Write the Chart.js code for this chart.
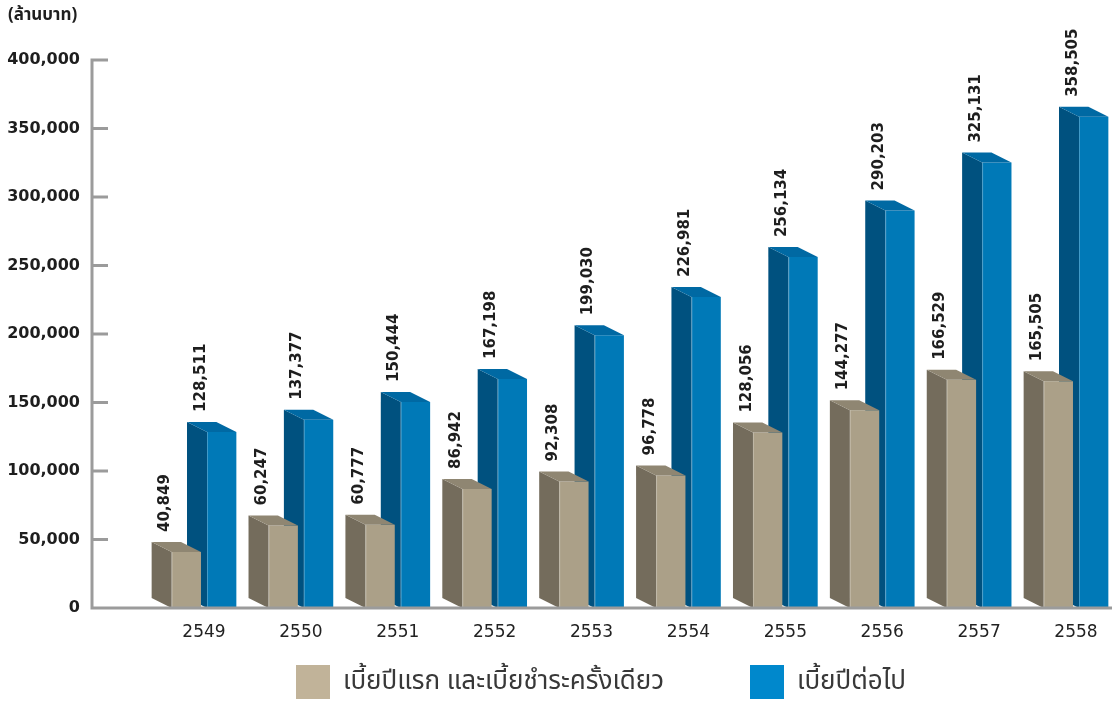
<!DOCTYPE html>
<html lang="th">
<head>
<meta charset="utf-8">
<title>เบี้ยประกันภัยรับ 2549-2558</title>
<script src="https://cdn.jsdelivr.net/npm/chart.js@4.4.1/dist/chart.umd.min.js"></script>
<style>
  html, body { margin: 0; padding: 0; background: #ffffff; }
  #wrap { width: 1112px; height: 703px; }
</style>
</head>
<body>
<div id="wrap"><canvas id="chart" width="1112" height="703"></canvas></div>
<script>
// Years (Buddhist era)
const years = ['2549', '2550', '2551', '2552', '2553', '2554', '2555', '2556', '2557', '2558'];

// Premiums, million baht
const firstYearAndSingle = [40849, 60247, 60777, 86942, 92308, 96778, 128056, 144277, 166529, 165505];
const renewal = [128511, 137377, 150444, 167198, 199030, 226981, 256134, 290203, 325131, 358505];

const seriesNames = ['เบี้ยปีแรก และเบี้ยชำระครั้งเดียว', 'เบี้ยปีต่อไป'];
const unitLabel = '(ล้านบาท)';
const yTicks = [0, 50000, 100000, 150000, 200000, 250000, 300000, 350000, 400000];

const THAI_FONT = '"Noto Sans Thai", "Noto Sans Thai Looped", Tahoma, "Noto Sans", sans-serif';
const NUM_FONT = '"DejaVu Sans", "Noto Sans", sans-serif';

// Colours for each face of the box bars
const faces = [
  { front: '#aba088', side: '#746c5c', top: '#8f8672', legend: '#c1b399' },
  { front: '#0079b7', side: '#00517f', top: '#0069a3', legend: '#0088cc' }
];
const DEPTH_X = -20;
const DEPTH_Y = -10;

const fmt = v => v.toLocaleString('en-US');

// Side and top faces, drawn right after each dataset so the front series overlaps the one behind it
const boxFaces = {
  id: 'boxFaces',
  afterDatasetDraw(chart, args) {
    const ctx = chart.ctx;
    const f = faces[args.index];
    ctx.save();
    args.meta.data.forEach(bar => {
      const { x, y, base, width } = bar.getProps(['x', 'y', 'base', 'width'], true);
      const l = x - width / 2, r = x + width / 2;
      ctx.fillStyle = f.side;
      ctx.beginPath();
      ctx.moveTo(l, base);
      ctx.lineTo(l + DEPTH_X, base + DEPTH_Y);
      ctx.lineTo(l + DEPTH_X, y + DEPTH_Y);
      ctx.lineTo(l, y);
      ctx.closePath();
      ctx.fill();
      ctx.fillStyle = f.top;
      ctx.beginPath();
      ctx.moveTo(l, y);
      ctx.lineTo(l + DEPTH_X, y + DEPTH_Y);
      ctx.lineTo(r + DEPTH_X, y + DEPTH_Y);
      ctx.lineTo(r, y);
      ctx.closePath();
      ctx.fill();
      // soft light edge on the front corner
      ctx.strokeStyle = 'rgba(255,255,255,0.25)';
      ctx.lineWidth = 1;
      ctx.beginPath();
      ctx.moveTo(l + 0.5, y);
      ctx.lineTo(l + 0.5, base);
      ctx.stroke();
    });
    ctx.restore();
  }
};

// Vertical value labels above every bar
const valueLabels = {
  id: 'valueLabels',
  afterDatasetsDraw(chart) {
    const ctx = chart.ctx;
    ctx.save();
    ctx.font = 'bold 15px ' + NUM_FONT;
    ctx.fillStyle = '#1e1e1e';
    ctx.textAlign = 'left';
    ctx.textBaseline = 'middle';
    chart.data.datasets.forEach((ds, i) => {
      chart.getDatasetMeta(i).data.forEach((bar, j) => {
        const { x, y } = bar.getProps(['x', 'y'], true);
        ctx.save();
        ctx.translate(x + DEPTH_X - 1, y + DEPTH_Y - 10);
        ctx.rotate(-Math.PI / 2);
        ctx.fillText(fmt(ds.data[j]), 0, 0);
        ctx.restore();
      });
    });
    ctx.restore();
  }
};

// Axis lines, tick marks, unit caption and legend
const frame = {
  id: 'frame',
  afterDraw(chart) {
    const ctx = chart.ctx;
    const ys = chart.scales.y;
    const axisX = 92;
    const yTop = ys.getPixelForValue(yTicks[yTicks.length - 1]);
    const yZero = ys.getPixelForValue(0);
    ctx.save();
    ctx.strokeStyle = '#9b9b9b';
    ctx.lineWidth = 3;
    ctx.lineCap = 'butt';
    ctx.beginPath();
    ctx.moveTo(axisX, yTop - 1.5);
    ctx.lineTo(axisX, yZero);
    ctx.moveTo(axisX - 1.5, yZero);
    ctx.lineTo(chart.width, yZero);
    yTicks.forEach(v => {
      const py = ys.getPixelForValue(v);
      ctx.moveTo(axisX - 1.5, py);
      ctx.lineTo(axisX + 16, py);
    });
    ctx.stroke();

    ctx.fillStyle = '#1e1e1e';
    ctx.font = 'bold 17px ' + THAI_FONT;
    ctx.textAlign = 'left';
    ctx.textBaseline = 'middle';
    ctx.fillText(unitLabel, 8, 17);

    const legendX = [296, 750];
    ctx.font = '26px ' + THAI_FONT;
    seriesNames.forEach((name, i) => {
      ctx.fillStyle = faces[i].legend;
      ctx.fillRect(legendX[i], 665, 34, 34);
      ctx.fillStyle = '#383838';
      ctx.fillText(name, legendX[i] + 47, 684);
    });
    ctx.restore();
  }
};

new Chart(document.getElementById('chart'), {
  type: 'bar',
  data: {
    labels: years,
    datasets: [
      { label: seriesNames[0], data: firstYearAndSingle, backgroundColor: faces[0].front, borderWidth: 0, clip: false },
      { label: seriesNames[1], data: renewal, backgroundColor: faces[1].front, borderWidth: 0, clip: false }
    ]
  },
  options: {
    responsive: false,
    animation: false,
    devicePixelRatio: 1,
    categoryPercentage: 0.73,
    barPercentage: 0.83,
    layout: { padding: { top: 60, right: 36, bottom: 55, left: 0 } },
    plugins: { legend: { display: false }, tooltip: { enabled: false } },
    scales: {
      x: {
        offset: false,
        grid: { display: false, drawTicks: false },
        border: { display: false },
        ticks: { color: '#222222', font: { family: NUM_FONT, size: 17 }, padding: 14, maxRotation: 0 },
        afterFit(scale) { scale.height = 40; }
      },
      y: {
        min: 0,
        max: 400000,
        grid: { display: false, drawTicks: false },
        border: { display: false },
        afterBuildTicks(scale) { scale.ticks = yTicks.map(v => ({ value: v })); },
        ticks: {
          color: '#1e1e1e',
          font: { family: NUM_FONT, size: 16, weight: 'bold' },
          padding: 124,
          callback: v => fmt(v)
        },
        afterFit(scale) {
          // labels sit far left of the plot; keep only half a label of vertical room
          scale.width = 204;
          scale.paddingTop = 10;
          scale.paddingBottom = 10;
        }
      }
    }
  },
  plugins: [boxFaces, valueLabels, frame]
});
</script>
</body>
</html>
